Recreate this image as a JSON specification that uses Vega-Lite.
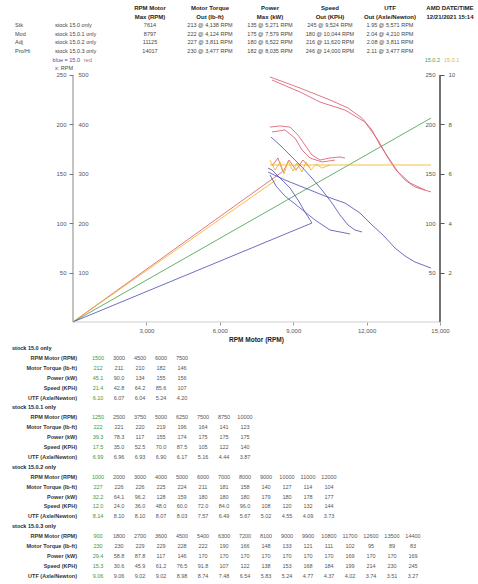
{
  "$schema": "https://vega.github.io/schema/vega-lite/v6.json",
  "width": 478,
  "height": 584,
  "padding": 0,
  "background": "white",
  "config": {"view": {"stroke": null}, "font": "Liberation Sans", "axis": {"grid": false}},
  "resolve": {"scale": {"x": "independent", "y": "independent"}, "axis": {"x": "independent", "y": "independent"}},
  "layer": [
    {
      "data": {"values": [
        {"row": 0, "col": 1, "k": "h", "t": "RPM Motor"},
        {"row": 0, "col": 2, "k": "h", "t": "Motor Torque"},
        {"row": 0, "col": 3, "k": "h", "t": "Power"},
        {"row": 0, "col": 4, "k": "h", "t": "Speed"},
        {"row": 0, "col": 5, "k": "h", "t": "UTF"},
        {"row": 0, "col": 6, "k": "h", "t": "AMD DATE/TIME"},
        {"row": 1, "col": 1, "k": "h", "t": "Max (RPM)"},
        {"row": 1, "col": 2, "k": "h", "t": "Out (lb-ft)"},
        {"row": 1, "col": 3, "k": "h", "t": "Max (kW)"},
        {"row": 1, "col": 4, "k": "h", "t": "Out (KPH)"},
        {"row": 1, "col": 5, "k": "h", "t": "Out (Axle/Newton)"},
        {"row": 1, "col": 6, "k": "h", "t": "12/21/2021 15:14"},
        {"row": 2, "col": 0, "k": "tag", "t": "Stk"},
        {"row": 3, "col": 0, "k": "tag", "t": "Mod"},
        {"row": 4, "col": 0, "k": "tag", "t": "Adj"},
        {"row": 5, "col": 0, "k": "tag", "t": "Pro/Hi"},
        {"row": 2, "col": 0, "k": "name", "t": "stock 15.0 only"},
        {"row": 3, "col": 0, "k": "name", "t": "stock 15.0.1 only"},
        {"row": 4, "col": 0, "k": "name", "t": "stock 15.0.2 only"},
        {"row": 5, "col": 0, "k": "name", "t": "stock 15.0.3 only"},
        {"row": 7, "col": 0, "k": "name", "t": "x: RPM"},
        {"row": 2, "col": 1, "k": "v", "t": "7614"},
        {"row": 2, "col": 2, "k": "v", "t": "213 @ 4,138 RPM"},
        {"row": 2, "col": 3, "k": "v", "t": "135 @ 5,271 RPM"},
        {"row": 2, "col": 4, "k": "v", "t": "245 @ 9,524 RPM"},
        {"row": 2, "col": 5, "k": "v", "t": "1.95 @ 5,571 RPM"},
        {"row": 3, "col": 1, "k": "v", "t": "8797"},
        {"row": 3, "col": 2, "k": "v", "t": "222 @ 4,124 RPM"},
        {"row": 3, "col": 3, "k": "v", "t": "175 @ 7,579 RPM"},
        {"row": 3, "col": 4, "k": "v", "t": "180 @ 10,044 RPM"},
        {"row": 3, "col": 5, "k": "v", "t": "2.04 @ 4,210 RPM"},
        {"row": 4, "col": 1, "k": "v", "t": "11125"},
        {"row": 4, "col": 2, "k": "v", "t": "227 @ 3,811 RPM"},
        {"row": 4, "col": 3, "k": "v", "t": "180 @ 6,522 RPM"},
        {"row": 4, "col": 4, "k": "v", "t": "216 @ 11,620 RPM"},
        {"row": 4, "col": 5, "k": "v", "t": "2.08 @ 3,811 RPM"},
        {"row": 5, "col": 1, "k": "v", "t": "14017"},
        {"row": 5, "col": 2, "k": "v", "t": "230 @ 3,477 RPM"},
        {"row": 5, "col": 3, "k": "v", "t": "182 @ 8,035 RPM"},
        {"row": 5, "col": 4, "k": "v", "t": "246 @ 14,000 RPM"},
        {"row": 5, "col": 5, "k": "v", "t": "2.11 @ 3,477 RPM"},
        {"row": 6, "col": 0, "k": "legR", "s": "blue", "t": "blue = 15.0"},
        {"row": 6, "col": 0, "k": "legL", "s": "red", "t": "red"},
        {"row": 6, "col": 6, "k": "legR", "s": "green", "t": "15.0.2"},
        {"row": 6, "col": 6, "k": "legL", "s": "orange", "t": "15.0.1"}
      ]},
      "encoding": {
        "x": {"field": "col", "type": "quantitative", "scale": {"domain": [-1.5, 6.467], "nice": false, "zero": false}, "axis": null},
        "y": {"field": "row", "type": "quantitative", "scale": {"domain": [-0.93, 66.977], "nice": false, "zero": false, "reverse": true}, "axis": null},
        "text": {"field": "t"}
      },
      "layer": [
        {"transform": [{"filter": "datum.k === 'h'"}], "mark": {"type": "text", "fontSize": 6, "fontWeight": "bold", "color": "#222"}},
        {"transform": [{"filter": "datum.k === 'v'"}], "mark": {"type": "text", "fontSize": 5.5, "color": "#444"}},
        {"transform": [{"filter": "datum.k === 'tag'"}], "mark": {"type": "text", "fontSize": 5.5, "align": "left", "dx": -75, "color": "#444"}},
        {"transform": [{"filter": "datum.k === 'name'"}], "mark": {"type": "text", "fontSize": 5.5, "align": "left", "dx": -35, "color": "#444"}},
        {"transform": [{"filter": "datum.k === 'legR'"}], "mark": {"type": "text", "fontSize": 5.5, "align": "right", "dx": -10},
          "encoding": {"color": {"field": "s", "type": "nominal", "scale": {"domain": ["red", "orange", "green", "blue"], "range": ["#d9546a", "#efb21c", "#3f9e4a", "#4b4bb0"]}, "legend": null}}},
        {"transform": [{"filter": "datum.k === 'legL'"}], "mark": {"type": "text", "fontSize": 5.5, "align": "left", "dx": -6},
          "encoding": {"color": {"field": "s", "type": "nominal", "scale": {"domain": ["red", "orange", "green", "blue"], "range": ["#d9546a", "#efb21c", "#3f9e4a", "#4b4bb0"]}, "legend": null}}}
      ]
    },
    {
      "resolve": {"scale": {"y": "independent"}, "axis": {"y": "independent"}},
      "layer": [
        {
          "data": {"values": [
            {"s": "red", "id": "r0", "x": [0, 8542], "v": [0, 151.8]},
            {"s": "orange", "id": "o0", "x": [0, 8297], "v": [0, 143.7]},
            {"s": "green", "id": "g0", "x": [0, 14631], "v": [0, 206.4]},
            {"s": "blue", "id": "b0", "x": [0, 9768], "v": [0, 100.2]},
            {"s": "red", "id": "rA", "x": [8051, 9277, 10504, 11239, 11811, 12220, 12547, 12956, 13283, 13569, 13978, 14631], "v": [248, 236.8, 224.7, 216.6, 206.4, 194.3, 179.1, 163.9, 151.8, 143.7, 136.6, 131.6]},
            {"s": "red", "id": "rA2", "x": [8133, 9277, 10095, 11117, 11934, 12465, 12874, 13201, 13773, 14386], "v": [244.9, 232.8, 222.6, 214.5, 202.4, 184.2, 166, 153.8, 140.7, 133.6]},
            {"s": "red", "id": "rB", "x": [8051, 8460, 8869, 9196, 9482, 9768, 10095, 10504, 10912, 11117], "v": [197.3, 198.4, 197.3, 189.2, 179.1, 169, 163.9, 166, 167, 166]},
            {"s": "red", "id": "rB2", "x": [8133, 8664, 9073, 9359, 9686, 10177, 10708], "v": [192.3, 194.3, 186.2, 174.1, 166, 161.9, 163.9]},
            {"s": "red", "id": "rZ", "x": [8133, 8378, 8583, 8828, 9114, 9400, 9686], "v": [157.9, 166, 151.8, 163.9, 153.8, 163.9, 155.8]},
            {"s": "orange", "id": "oH", "x": [8051, 14631], "v": [158.9, 158.9]},
            {"s": "orange", "id": "oZ", "x": [8051, 8256, 8460, 8624, 8787, 8991, 9155, 9359, 9523, 9727, 9931, 10177, 10504], "v": [163.9, 153.8, 161.9, 149.8, 162.9, 152.8, 160.9, 151.8, 161.9, 153.8, 159.9, 155.8, 158.9]},
            {"s": "blue", "id": "bC", "x": [7970, 8133, 8460, 8869, 9196, 9482, 9768], "v": [155.8, 153.8, 145.7, 135.6, 123.5, 111.3, 100.2]},
            {"s": "blue", "id": "bD", "x": [8092, 8460, 8869, 9277, 9768, 10177, 10586, 10912, 11239, 11525, 11811], "v": [187.2, 179.1, 169, 158.9, 145.7, 133.6, 120.4, 108.3, 98.2, 93.1, 91.1]},
            {"s": "blue", "id": "bE", "x": [7970, 8664, 9482, 10299, 11117, 11730, 12220, 12670, 13160, 13569, 13978, 14631], "v": [151.8, 143.7, 135.6, 127.5, 120.4, 110.3, 98.2, 88, 74.9, 66.8, 60.7, 54.6]},
            {"s": "blue", "id": "bF", "x": [8051, 8297, 8664, 9277, 9891, 10504, 11117, 11321], "v": [148.8, 137.6, 127.5, 115.4, 103.2, 93.1, 90.1, 89.1]}
          ]},
          "transform": [{"flatten": ["x", "v"]}],
          "mark": {"type": "line", "strokeWidth": 1, "opacity": 0.8},
          "encoding": {
            "x": {"field": "x", "type": "quantitative", "scale": {"domain": [-2983.6, 16553.2], "nice": false, "zero": false},
              "axis": {"orient": "bottom", "offset": -262, "values": [3000, 6000, 9000, 12000, 15000], "domain": false, "labelFontSize": 6, "labelColor": "#555", "tickSize": 3, "tickColor": "#999", "labelPadding": 2, "title": "RPM Motor (RPM)", "titleX": 256, "titleFontSize": 6.5, "titleFontWeight": "bold", "titleColor": "#222", "titlePadding": 3}},
            "y": {"field": "v", "type": "quantitative", "scale": {"domain": [-265.2, 325.9], "nice": false, "zero": false},
              "axis": {"orient": "left", "offset": -73, "values": [50, 100, 150, 200, 250], "domain": false, "labelFontSize": 6, "labelColor": "#555", "tickSize": 4, "tickColor": "#777", "labelPadding": 3, "title": null}},
            "color": {"field": "s", "type": "nominal", "scale": {"domain": ["red", "orange", "green", "blue"], "range": ["#d9546a", "#efb21c", "#3f9e4a", "#4b4bb0"]}, "legend": null},
            "detail": {"field": "id"}
          }
        },
        {
          "data": {"values": [{"a": 0, "b": 15000, "c": 0, "d": 0}]},
          "mark": {"type": "rule", "color": "#cccccc", "strokeWidth": 1},
          "encoding": {
            "x": {"field": "a", "type": "quantitative"},
            "x2": {"field": "b"},
            "y": {"field": "c", "type": "quantitative", "scale": {"domain": [-265.2, 325.9], "nice": false, "zero": false}, "axis": null},
            "y2": {"field": "d"}
          }
        },
        {
          "data": {"values": [{"a": 0, "b": 0, "c": 0, "d": 250}]},
          "mark": {"type": "rule", "color": "#888888", "strokeWidth": 1},
          "encoding": {
            "x": {"field": "a", "type": "quantitative"},
            "x2": {"field": "b"},
            "y": {"field": "c", "type": "quantitative", "scale": {"domain": [-265.2, 325.9], "nice": false, "zero": false}, "axis": null},
            "y2": {"field": "d"}
          }
        },
        {
          "data": {"values": [{"a": 15000, "b": 15000, "c": 0, "d": 250}]},
          "mark": {"type": "rule", "color": "#444444", "strokeWidth": 1.5},
          "encoding": {
            "x": {"field": "a", "type": "quantitative"},
            "x2": {"field": "b"},
            "y": {"field": "c", "type": "quantitative", "scale": {"domain": [-265.2, 325.9], "nice": false, "zero": false}, "axis": null},
            "y2": {"field": "d"}
          }
        },
        {
          "data": {"values": [{"p": 0}]},
          "mark": {"type": "point", "opacity": 0},
          "encoding": {"y": {"field": "p", "type": "quantitative", "scale": {"domain": [-530.4, 651.8], "nice": false, "zero": false},
            "axis": {"orient": "right", "offset": -405, "values": [100, 200, 300, 400, 500], "domain": false, "ticks": false, "labelPadding": 5, "labelFontSize": 6, "labelColor": "#555", "title": null}}}
        },
        {
          "data": {"values": [{"p": 0}]},
          "mark": {"type": "point", "opacity": 0},
          "encoding": {"y": {"field": "p", "type": "quantitative", "scale": {"domain": [-265.2, 325.9], "nice": false, "zero": false},
            "axis": {"orient": "left", "offset": -440, "values": [50, 100, 150, 200, 250], "domain": false, "ticks": false, "labelPadding": 5, "labelFontSize": 6, "labelColor": "#555", "title": null}}}
        },
        {
          "data": {"values": [{"p": 0}]},
          "mark": {"type": "point", "opacity": 0},
          "encoding": {"y": {"field": "p", "type": "quantitative", "scale": {"domain": [-10.608, 13.036], "nice": false, "zero": false},
            "axis": {"orient": "right", "offset": -38, "values": [2, 4, 6, 8, 10], "domain": false, "tickSize": 4, "tickColor": "#555", "labelPadding": 4, "labelFontSize": 6, "labelColor": "#555", "title": null}}}
        }
      ]
    },
    {
      "data": {"values": [
        {"line": 0, "sec": "stock 15.0 only"},
        {"line": 1, "label": "RPM Motor (RPM)", "vals": ["1500", "3000", "4500", "6000", "7500"]},
        {"line": 2, "label": "Motor Torque (lb-ft)", "vals": ["212", "211", "210", "182", "146"]},
        {"line": 3, "label": "Power (kW)", "vals": ["45.1", "90.0", "134", "155", "156"]},
        {"line": 4, "label": "Speed (KPH)", "vals": ["21.4", "42.8", "64.2", "85.6", "107"]},
        {"line": 5, "label": "UTF (Axle/Newton)", "vals": ["6.10", "6.07", "6.04", "5.24", "4.20"]},
        {"line": 6, "sec": "stock 15.0.1 only"},
        {"line": 7, "label": "RPM Motor (RPM)", "vals": ["1250", "2500", "3750", "5000", "6250", "7500", "8750", "10000"]},
        {"line": 8, "label": "Motor Torque (lb-ft)", "vals": ["222", "221", "220", "219", "196", "164", "141", "123"]},
        {"line": 9, "label": "Power (kW)", "vals": ["39.3", "78.3", "117", "155", "174", "175", "175", "175"]},
        {"line": 10, "label": "Speed (KPH)", "vals": ["17.5", "35.0", "52.5", "70.0", "87.5", "105", "122", "140"]},
        {"line": 11, "label": "UTF (Axle/Newton)", "vals": ["6.99", "6.96", "6.93", "6.90", "6.17", "5.16", "4.44", "3.87"]},
        {"line": 12, "sec": "stock 15.0.2 only"},
        {"line": 13, "label": "RPM Motor (RPM)", "vals": ["1000", "2000", "3000", "4000", "5000", "6000", "7000", "8000", "9000", "10000", "11000", "12000"]},
        {"line": 14, "label": "Motor Torque (lb-ft)", "vals": ["227", "226", "226", "225", "224", "211", "181", "158", "140", "127", "114", "104"]},
        {"line": 15, "label": "Power (kW)", "vals": ["32.2", "64.1", "96.2", "128", "159", "180", "180", "180", "179", "180", "178", "177"]},
        {"line": 16, "label": "Speed (KPH)", "vals": ["12.0", "24.0", "36.0", "48.0", "60.0", "72.0", "84.0", "96.0", "108", "120", "132", "144"]},
        {"line": 17, "label": "UTF (Axle/Newton)", "vals": ["8.14", "8.10", "8.10", "8.07", "8.03", "7.57", "6.49", "5.67", "5.02", "4.55", "4.09", "3.73"]},
        {"line": 18, "sec": "stock 15.0.3 only"},
        {"line": 19, "label": "RPM Motor (RPM)", "vals": ["900", "1800", "2700", "3600", "4500", "5400", "6300", "7200", "8100", "9000", "9900", "10800", "11700", "12600", "13500", "14400"]},
        {"line": 20, "label": "Motor Torque (lb-ft)", "vals": ["230", "230", "229", "229", "228", "222", "190", "166", "148", "133", "121", "111", "102", "95", "89", "83"]},
        {"line": 21, "label": "Power (kW)", "vals": ["29.4", "58.8", "87.8", "117", "146", "170", "170", "170", "170", "170", "170", "170", "169", "170", "170", "169"]},
        {"line": 22, "label": "Speed (KPH)", "vals": ["15.3", "30.6", "45.9", "61.2", "76.5", "91.8", "107", "122", "138", "153", "168", "184", "199", "214", "230", "245"]},
        {"line": 23, "label": "UTF (Axle/Newton)", "vals": ["9.06", "9.06", "9.02", "9.02", "8.98", "8.74", "7.48", "6.54", "5.83", "5.24", "4.77", "4.37", "4.02", "3.74", "3.51", "3.27"]}
      ]},
      "layer": [
        {
          "transform": [{"filter": "datum.sec"}],
          "mark": {"type": "text", "fontSize": 5.5, "fontWeight": "bold", "align": "left", "dx": -65, "color": "#222"},
          "encoding": {
            "x": {"datum": 0, "type": "quantitative", "scale": {"domain": [-3.667, 19.095], "nice": false, "zero": false}, "axis": null},
            "y": {"field": "line", "type": "quantitative", "scale": {"domain": [-35.152, 23.838], "nice": false, "zero": false, "reverse": true}, "axis": null},
            "text": {"field": "sec"}
          }
        },
        {
          "transform": [{"filter": "datum.label"}],
          "mark": {"type": "text", "fontSize": 5.5, "fontWeight": "bold", "align": "right", "color": "#333"},
          "encoding": {
            "x": {"datum": 0, "type": "quantitative", "scale": {"domain": [-3.667, 19.095], "nice": false, "zero": false}, "axis": null},
            "y": {"field": "line", "type": "quantitative", "scale": {"domain": [-35.152, 23.838], "nice": false, "zero": false, "reverse": true}, "axis": null},
            "text": {"field": "label"}
          }
        },
        {
          "transform": [{"filter": "datum.vals"}, {"flatten": ["vals"], "as": ["val"]}, {"window": [{"op": "row_number", "as": "col"}], "groupby": ["line"]}],
          "mark": {"type": "text", "fontSize": 5.5},
          "encoding": {
            "x": {"field": "col", "type": "quantitative", "scale": {"domain": [-3.667, 19.095], "nice": false, "zero": false}, "axis": null},
            "y": {"field": "line", "type": "quantitative", "scale": {"domain": [-35.152, 23.838], "nice": false, "zero": false, "reverse": true}, "axis": null},
            "text": {"field": "val"},
            "color": {"condition": {"test": "datum.col === 1", "value": "#3a9a3a"}, "value": "#555"}
          }
        }
      ]
    }
  ]
}
